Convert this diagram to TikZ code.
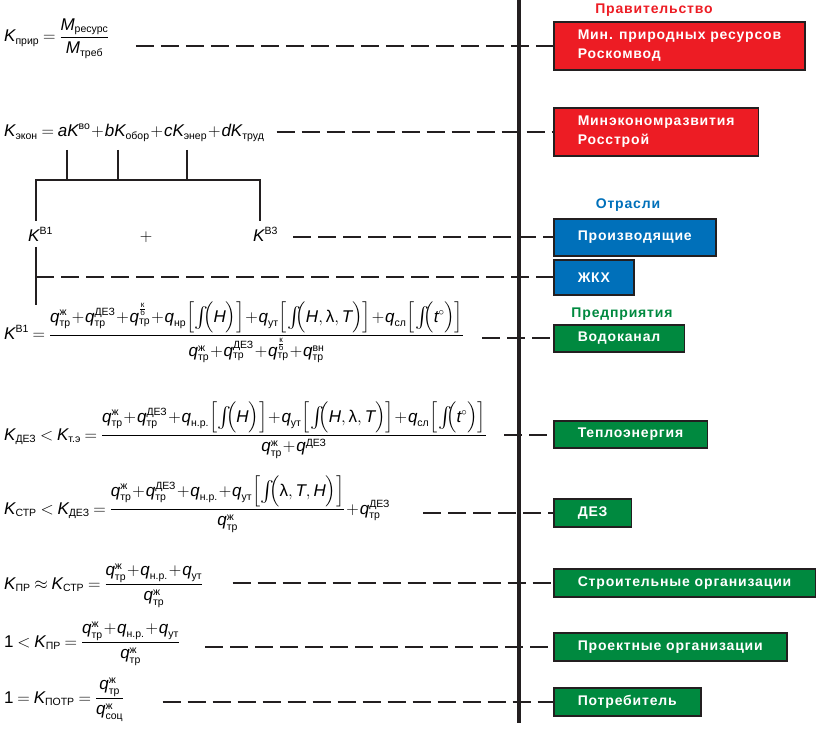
\documentclass[tikz,border=0pt]{standalone}
\usepackage{amsmath}
\usepackage{fontspec}
\setmainfont{Liberation Sans}
\newfontfamily\boxfont[LetterSpace=6]{Liberation Sans}
\DeclareMathSizes{17}{17}{10.5}{8}
\usetikzlibrary{calc}
\definecolor{govred}{HTML}{ED1C24}
\definecolor{branchblue}{HTML}{0070BA}
\definecolor{firmgreen}{HTML}{00893F}
\definecolor{ink}{HTML}{231F20}
\newcommand{\iv}[1]{\textit{#1}}
\newcommand{\lo}[1]{_{\text{#1}}}
\newcommand{\hi}[1]{^{\text{#1}}}
\newcommand{\vq}{\iv{q}}
\newcommand{\kb}{\frac{\text{к}}{\text{б}}}
\newcommand{\bigint}{\text{\kern0.5pt\raisebox{-1.5pt}{\fontsize{22}{22}\selectfont$\int$}\kern-5.5pt}}
\newcommand{\intof}[1]{\Bigl[\bigint\Bigl(#1\Bigr)\Bigr]}
\newcommand{\tightmath}{\medmuskip=1mu\relax\thickmuskip=4mu\relax}

\begin{document}
\begin{tikzpicture}[x=1pt,y=-1pt,
    formula/.style={anchor=base west, inner sep=0pt, font=\fontsize{17}{20}\selectfont\tightmath},
    orgbox/.style={draw=ink, line width=1.5pt, anchor=west, inner xsep=24pt, inner ysep=0pt,
                   align=left, text=white, font=\fontsize{14}{19}\selectfont\boxfont\bfseries},
    head/.style={font=\fontsize{14}{17}\selectfont\boxfont\bfseries},
    dashline/.style={ink, line width=2pt, dash pattern=on 18pt off 7pt},
    treeline/.style={ink, line width=1.5pt},
    axisline/.style={ink, line width=3.3pt}]
                    \useasboundingbox (0,0) rectangle (823,730);

                    % main axis
                    \draw[axisline] (519,0) -- (519,723);

                    % headings
                    \node[head, text=govred] (gov) at (654,10) {Правительство};
                    \node[head, text=branchblue] (branch) at (628,205) {Отрасли};
                    \node[head, text=firmgreen] (firm) at (622,314) {Предприятия};

                    % boxes
                    \node[orgbox, fill=govred, minimum height=48pt] (mpr) at (553,46) {Мин. природных ресурсов\\Роскомвод};
                    \node[orgbox, fill=govred, minimum height=48pt] (mek) at (553,132) {Минэкономразвития\\Росстрой};
                    \node[orgbox, fill=branchblue, minimum height=37pt] (proizv) at (553,237.5) {Производящие};
                    \node[orgbox, fill=branchblue, minimum height=35pt] (zhkh) at (553,277.5) {ЖКХ};
                    \node[orgbox, fill=firmgreen, minimum height=27pt] (vodok) at (553,338.5) {Водоканал};
                    \node[orgbox, fill=firmgreen, minimum height=27pt] (teplo) at (553,434.5) {Теплоэнергия};
                    \node[orgbox, fill=firmgreen, minimum height=28pt] (dez) at (553,513) {ДЕЗ};
                    \node[orgbox, fill=firmgreen, minimum height=28pt] (stroit) at (553,583) {Строительные организации};
                    \node[orgbox, fill=firmgreen, minimum height=28pt] (proekt) at (553,647) {Проектные организации};
                    \node[orgbox, fill=firmgreen, minimum height=28pt] (potreb) at (553,702) {Потребитель};

                    % formulas
                    \node[formula] (fprir) at (4,42) {$\iv{K}\lo{прир}=\dfrac{\iv{M}\lo{ресурс}}{\iv{M}\lo{треб}}$};
                    \node[formula] (fekon) at (4,137) {$\iv{K}\lo{экон}=\iv{aK}\hi{во}+\iv{bK}\lo{обор}+\iv{cK}\lo{энер}+\iv{dK}\lo{труд}$};
                    \node[formula] (kb1) at (28,242) {$\iv{K}\hi{В1}$};
                    \node[formula, anchor=center] (plus) at (146,237) {$+$};
                    \node[formula] (kb3) at (253,242) {$\iv{K}\hi{В3}$};
                    \node[formula] (fvod) at (4,340) {$\iv{K}\hi{В1}=\dfrac{\vq\hi{ж}\lo{тр}+\vq\hi{ДЕЗ}\lo{тр}+\vq^{\kb}\lo{тр}+\vq\lo{нр}\intof{\iv{H}}+\vq\lo{ут}\intof{\iv{H},\text{λ},\iv{T}}+\vq\lo{сл}\intof{\iv{t}^{\circ}}}{\vq\hi{ж}\lo{тр}+\vq\hi{ДЕЗ}\lo{тр}+\vq^{\kb}\lo{тр}+\vq\hi{вн}\lo{тр}}$};
                    \node[formula] (fteplo) at (4,440) {$\iv{K}\lo{ДЕЗ}<\iv{K}\lo{т.э}=\dfrac{\vq\hi{ж}\lo{тр}+\vq\hi{ДЕЗ}\lo{тр}+\vq\lo{н.р.}\intof{\iv{H}}+\vq\lo{ут}\intof{\iv{H},\text{λ},\iv{T}}+\vq\lo{сл}\intof{\iv{t}^{\circ}}}{\vq\hi{ж}\lo{тр}+\vq\hi{ДЕЗ}}$};
                    \node[formula] (fdez) at (4,514) {$\iv{K}\lo{СТР}<\iv{K}\lo{ДЕЗ}=\dfrac{\vq\hi{ж}\lo{тр}+\vq\hi{ДЕЗ}\lo{тр}+\vq\lo{н.р.}+\vq\lo{ут}\intof{\text{λ},\iv{T},\iv{H}}}{\vq\hi{ж}\lo{тр}}+\vq\hi{ДЕЗ}\lo{тр}$};
                    \node[formula] (fstroit) at (4,589) {$\iv{K}\lo{ПР}\approx\iv{K}\lo{СТР}=\dfrac{\vq\hi{ж}\lo{тр}+\vq\lo{н.р.}+\vq\lo{ут}}{\vq\hi{ж}\lo{тр}}$};
                    \node[formula] (fproekt) at (4,647) {$\text{1}<\iv{K}\lo{ПР}=\dfrac{\vq\hi{ж}\lo{тр}+\vq\lo{н.р.}+\vq\lo{ут}}{\vq\hi{ж}\lo{тр}}$};
                    \node[formula] (fpotreb) at (4,703) {$\text{1}=\iv{K}\lo{ПОТР}=\dfrac{\vq\hi{ж}\lo{тр}}{\vq\hi{ж}\lo{соц}}$};

                    % bracket under K_экон
                    \foreach \x in {67,118,187}
                        \draw[treeline] (\x,150) -- (\x,180);
                    \draw[treeline] (36,221) -- (36,180) -- (260,180) -- (260,221);
                    \draw[treeline] (36,247) -- (36,305);
                    \coordinate (kjoin) at (36,278);

                    % links to the boxes
                    \draw[dashline, shorten <=26pt] (fprir.east |- mpr.west) -- (mpr.west);
                    \draw[dashline, shorten <=12pt] (fekon.east |- mek.west) -- (mek.west);
                    \draw[dashline, shorten <=15pt] (kb3.east |- proizv.west) -- (proizv.west);
                    \draw[dashline] (kjoin |- zhkh.west) -- (zhkh.west);
                    \draw[dashline, shorten <=18pt] (fvod.east |- vodok.west) -- (vodok.west);
                    \draw[dashline, shorten <=17pt] (fteplo.east |- teplo.west) -- (teplo.west);
                    \draw[dashline, shorten <=33pt] (fdez.east |- dez.west) -- (dez.west);
                    \draw[dashline, shorten <=29pt] (fstroit.east |- stroit.west) -- (stroit.west);
                    \draw[dashline, shorten <=25pt] (fproekt.east |- proekt.west) -- (proekt.west);
                    \draw[dashline, shorten <=38pt] (fpotreb.east |- potreb.west) -- (potreb.west);
                \end{tikzpicture}
\end{document}
